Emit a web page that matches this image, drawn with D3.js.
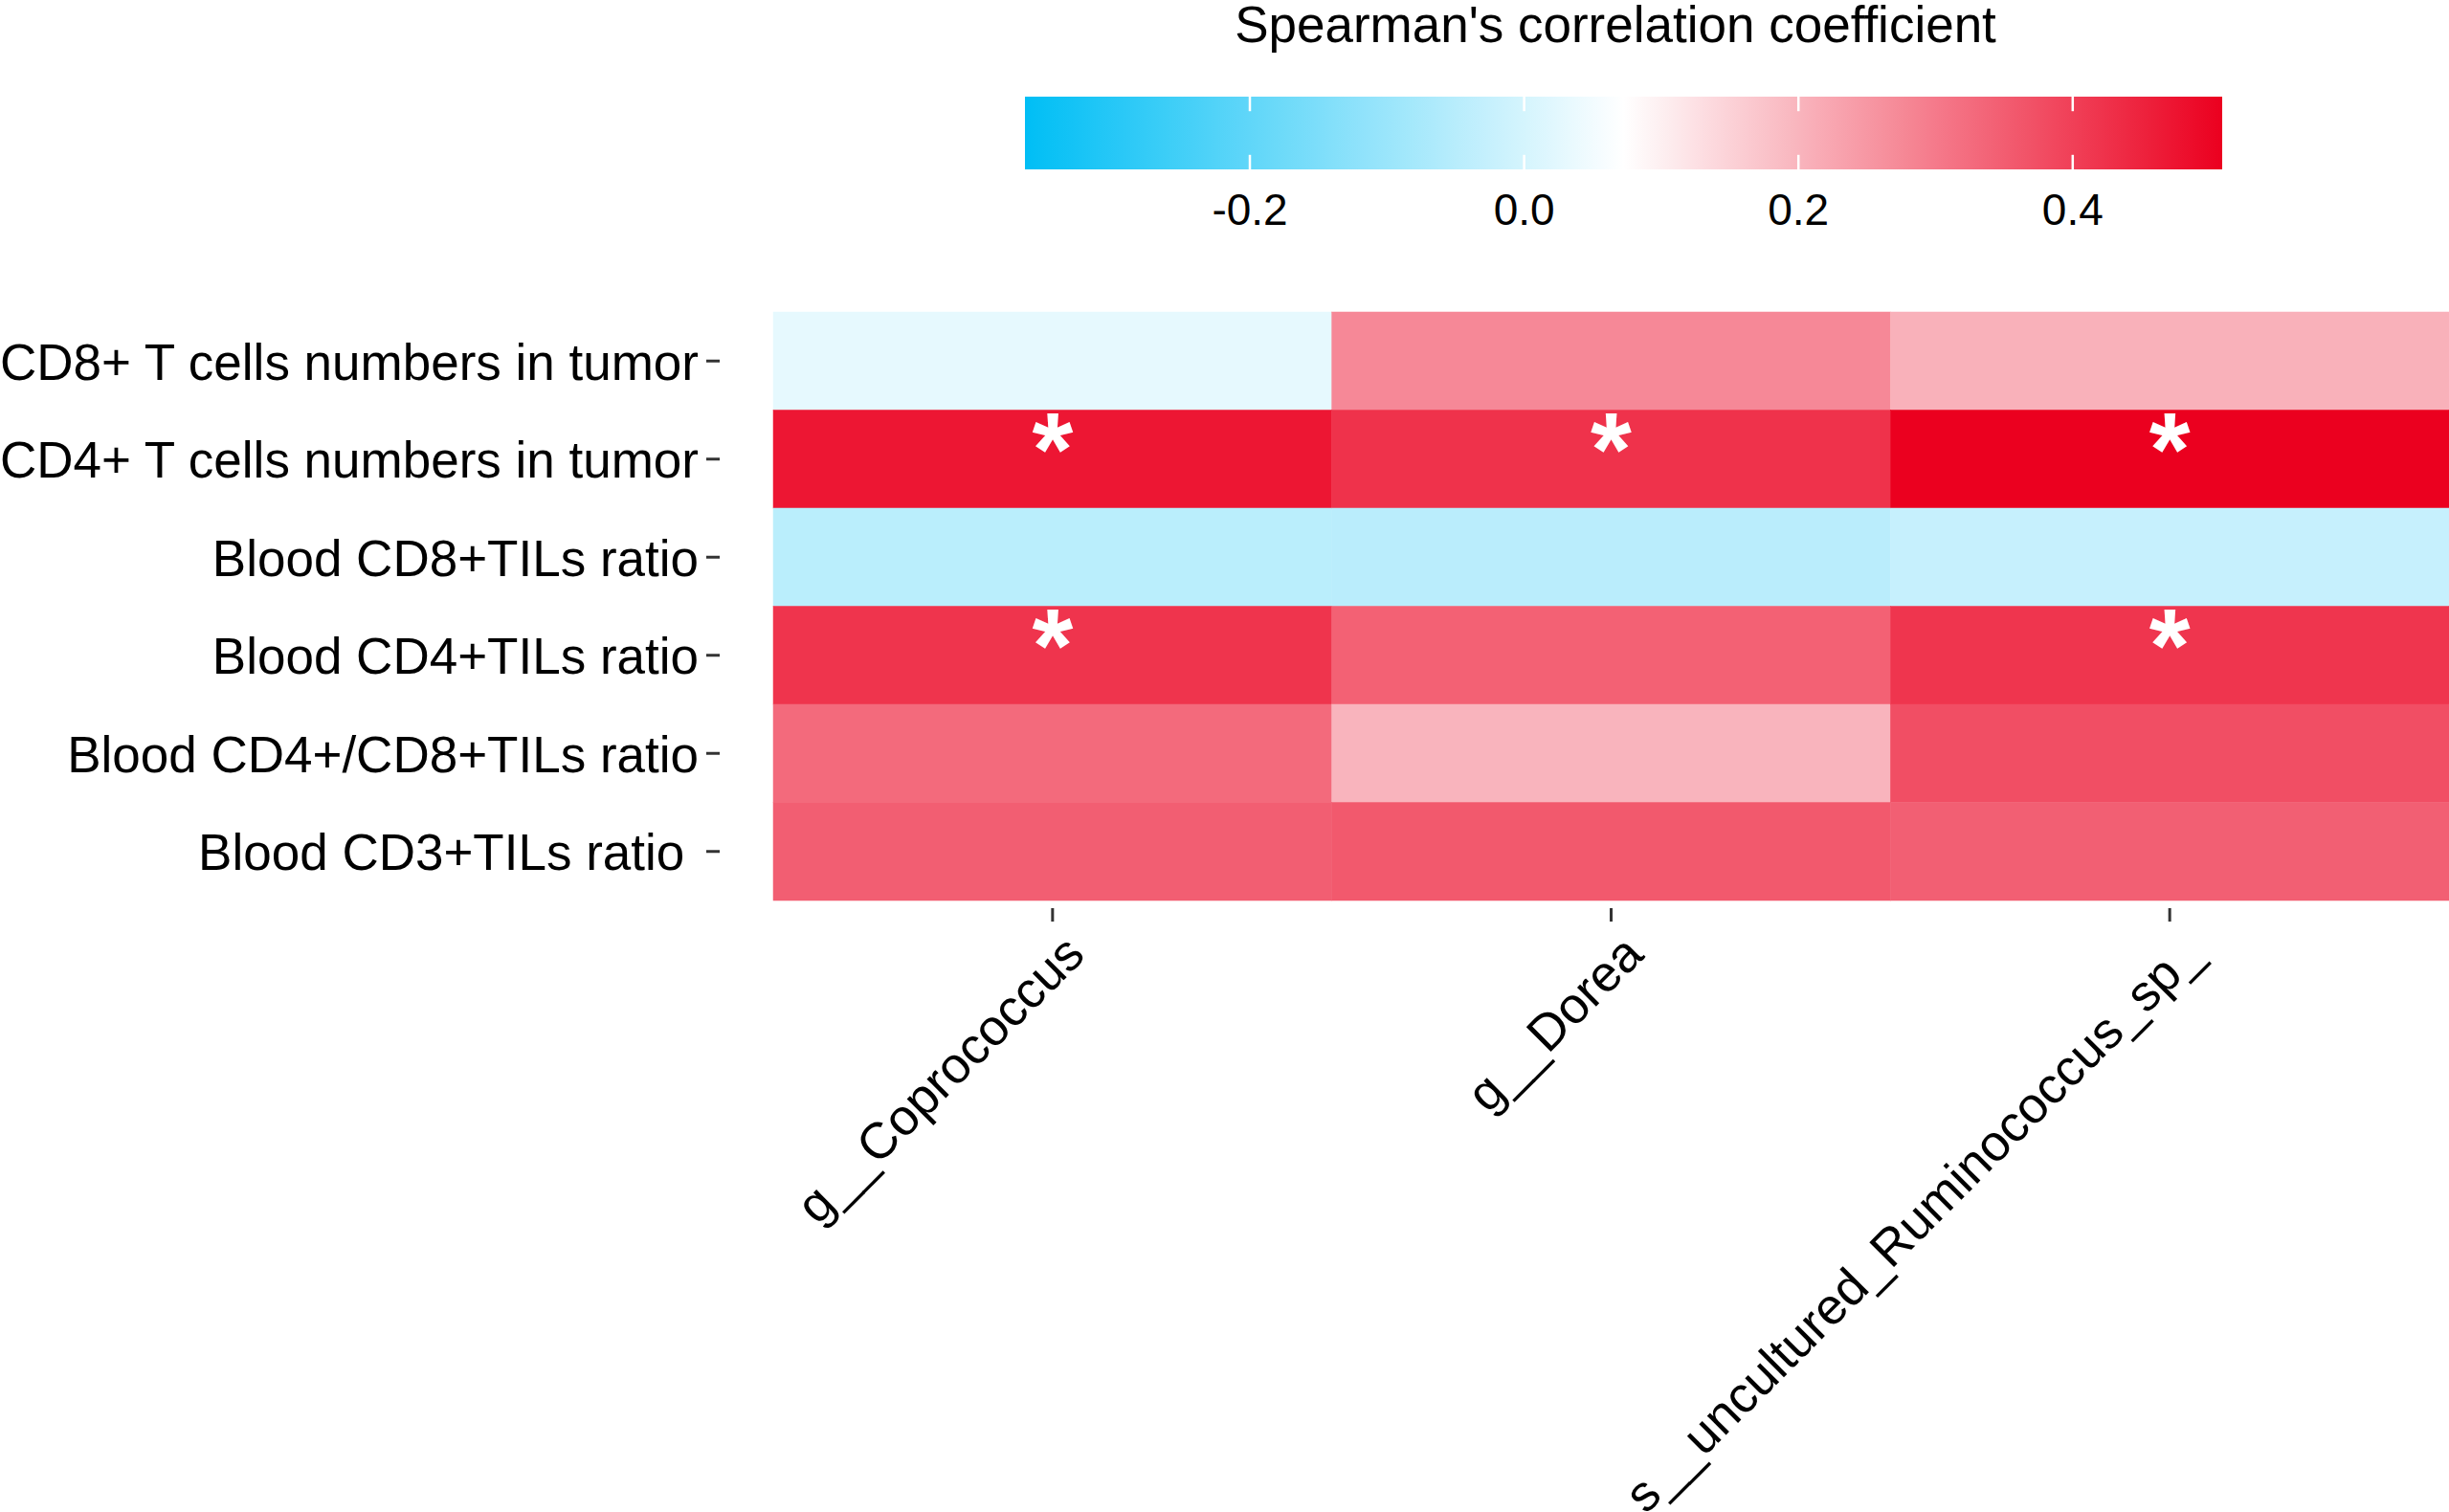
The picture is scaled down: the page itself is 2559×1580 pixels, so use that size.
<!DOCTYPE html>
<meta charset="utf-8">
<style>
body { margin: 0; background: #fff; }
text { font-family: "Liberation Sans", Arial, sans-serif; fill: #000; }
</style>
<svg width="2559" height="1580"></svg>
<script src="https://d3js.org/d3.v7.min.js"></script>
<script>

// columns (taxa) and rows (immune measures)
var taxa = ["g__Coprococcus", "g__Dorea", "s__uncultured_Ruminococcus_sp_"];

var measures = [
  "CD8+ T cells numbers in tumor",
  "CD4+ T cells numbers in tumor",
  "Blood CD8+TILs ratio",
  "Blood CD4+TILs ratio",
  "Blood CD4+/CD8+TILs ratio",
  "Blood CD3+TILs ratio "
];

// spearman rho, one array per taxon, in row order
var rhoCoprococcus = [0.030, 0.471, -0.045, 0.420, 0.327, 0.348];
var rhoDorea       = [0.276, 0.423, -0.046, 0.343, 0.201, 0.357];
var rhoRumino      = [0.206, 0.509, -0.025, 0.418, 0.375, 0.346];

// significance flags (p < 0.05), same order
var sigCoprococcus = [0, 1, 0, 1, 0, 0];
var sigDorea       = [0, 1, 0, 0, 0, 0];
var sigRumino      = [0, 1, 0, 1, 0, 0];

var legendTicks = [-0.2, 0.0, 0.2, 0.4];
var colorLimits = [-0.364, 0.509];

var rhoByTaxon = [rhoCoprococcus, rhoDorea, rhoRumino];
var sigByTaxon = [sigCoprococcus, sigDorea, sigRumino];

var cells = [];
taxa.forEach(function(t, i) {
  measures.forEach(function(m, j) {
    cells.push({taxon: t, measure: m, rho: rhoByTaxon[i][j], sig: sigByTaxon[i][j]});
  });
});

var svg = d3.select("svg");

var panel = {left: 808, right: 2559, top: 326, bottom: 941};

var x = d3.scaleBand().domain(taxa).range([panel.left, panel.right]);
var y = d3.scaleBand().domain(measures).range([panel.top, panel.bottom]);

var mid = (colorLimits[0] + colorLimits[1]) / 2;
var color = d3.scaleLinear()
    .domain([colorLimits[0], mid, colorLimits[1]])
    .range(["#00bef5", "#ffffff", "#eb001f"])
    .interpolate(d3.interpolateRgb)
    .clamp(true);

// tiles
svg.append("g").selectAll("rect")
    .data(cells)
  .enter().append("rect")
    .attr("x", function(d) { return x(d.taxon); })
    .attr("y", function(d) { return y(d.measure); })
    .attr("width", x.bandwidth())
    .attr("height", y.bandwidth())
    .attr("fill", function(d) { return color(d.rho); })
    .attr("stroke", function(d) { return color(d.rho); })
    .attr("stroke-width", 0.5);

// significance stars
svg.append("g").selectAll("text")
    .data(cells.filter(function(d) { return d.sig; }))
  .enter().append("text")
    .attr("x", function(d) { return x(d.taxon) + x.bandwidth() / 2; })
    .attr("y", function(d) { return y(d.measure) + y.bandwidth() / 2 + 27; })
    .attr("text-anchor", "middle")
    .style("font-size", "110px")
    .style("font-weight", "bold")
    .style("fill", "#fff")
    .text("*");

// y axis
var gy = svg.append("g")
    .attr("transform", "translate(752,0)")
    .call(d3.axisLeft(y).tickSize(14).tickPadding(8));
gy.select(".domain").remove();
gy.selectAll(".tick line").attr("stroke", "#333").attr("stroke-width", 3);
gy.selectAll(".tick text")
    .attr("dy", "0.37em")
    .style("font-size", "53px")
    .style("white-space", "pre")
    .attr("fill", "#000");

// x axis
var gx = svg.append("g")
    .attr("transform", "translate(0,949)")
    .call(d3.axisBottom(x).tickSize(14));
gx.select(".domain").remove();
gx.selectAll(".tick line").attr("stroke", "#333").attr("stroke-width", 3);
gx.selectAll(".tick text")
    .attr("x", 0)
    .attr("y", 0)
    .attr("dy", null)
    .attr("text-anchor", "end")
    .attr("transform", "translate(36,51) rotate(-45)")
    .style("font-size", "53px")
    .attr("fill", "#000");

// colour bar legend
var bar = {left: 1071, right: 2322, top: 101, bottom: 177};
var lx = d3.scaleLinear().domain(colorLimits).range([bar.left, bar.right]);

var grad = svg.append("defs").append("linearGradient")
    .attr("id", "rhoGrad")
    .attr("x1", "0%").attr("x2", "100%").attr("y1", "0%").attr("y2", "0%");
grad.selectAll("stop")
    .data(d3.range(0, 1.0001, 0.02))
  .enter().append("stop")
    .attr("offset", function(t) { return (t * 100) + "%"; })
    .attr("stop-color", function(t) {
      return color(colorLimits[0] + t * (colorLimits[1] - colorLimits[0]));
    });

svg.append("rect")
    .attr("x", bar.left)
    .attr("y", bar.top)
    .attr("width", bar.right - bar.left)
    .attr("height", bar.bottom - bar.top)
    .attr("fill", "url(#rhoGrad)");

var barH = bar.bottom - bar.top;
var lt = svg.append("g").selectAll("g")
    .data(legendTicks)
  .enter().append("g");
lt.append("line")
    .attr("x1", lx).attr("x2", lx)
    .attr("y1", bar.top).attr("y2", bar.top + barH * 0.2)
    .attr("stroke", "#fff").attr("stroke-width", 2.5);
lt.append("line")
    .attr("x1", lx).attr("x2", lx)
    .attr("y1", bar.bottom - barH * 0.2).attr("y2", bar.bottom)
    .attr("stroke", "#fff").attr("stroke-width", 2.5);
lt.append("text")
    .attr("x", lx)
    .attr("y", 235)
    .attr("text-anchor", "middle")
    .style("font-size", "46px")
    .text(function(d) { return d.toFixed(1); });

svg.append("text")
    .attr("x", 1688)
    .attr("y", 44)
    .attr("text-anchor", "middle")
    .style("font-size", "53px")
    .text("Spearman's correlation coefficient");

</script>
